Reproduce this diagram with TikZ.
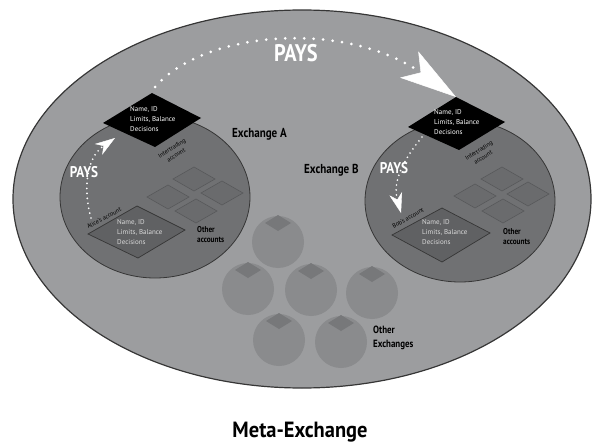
\documentclass[tikz,border=0pt]{standalone}
\usepackage{fontspec}
\setmainfont{PT Sans}
\newfontfamily\condfont[FakeStretch=0.85]{PT Sans}
\newfontfamily\metafont[FakeStretch=0.93]{PT Sans}
\usetikzlibrary{arrows.meta,shapes.geometric}
\definecolor{bgell}{HTML}{9C9D9F}
\definecolor{exfill}{HTML}{707173}
\definecolor{oxfill}{HTML}{8A8B8D}
\definecolor{oxtop}{HTML}{77787A}
\definecolor{accfill}{HTML}{606163}
\definecolor{smallacc}{HTML}{6A6B6D}
\definecolor{smalledge}{HTML}{58595B}
\definecolor{edgecol}{HTML}{363636}
\definecolor{lighttext}{HTML}{DADADA}
\begin{document}
\begin{tikzpicture}[x=1pt,y=-1pt,
  exch/.style={ellipse, draw=edgecol, line width=0.8pt, fill=exfill, minimum width=190pt, minimum height=162pt, inner sep=0pt},
  oxc/.style={circle, fill=oxfill, minimum size=52pt, inner sep=0pt},
  oxd/.style={fill=oxtop},
  accbox/.style={fill=smallacc, draw=smalledge, line width=0.6pt},
  persacc/.style={fill=accfill, draw=edgecol, line width=0.7pt},
  dtext/.style={text=white, align=left, inner sep=0pt, font=\fontsize{7}{10}\selectfont},
  ltext/.style={text=lighttext, align=left, inner sep=0pt, font=\fontsize{7}{10}\selectfont},
  rotlbl/.style={text=black, align=center, inner sep=0pt, font=\fontsize{6.1}{8}\selectfont},
  boldlbl/.style={text=black, inner sep=0pt, font=\condfont\bfseries\fontsize{13}{13}\selectfont},
  smalllbl/.style={text=black, align=left, inner sep=0pt, font=\condfont\bfseries\fontsize{8.5}{10}\selectfont},
  paystext/.style={text=white, inner sep=0pt, font=\condfont\bfseries\fontsize{15.5}{15.5}\selectfont},
  bigpays/.style={white, line width=3pt, line cap=round, dash pattern=on 0pt off 9.5pt,
    -{Stealth[length=57pt, width=32pt, inset=14pt, line width=0.5pt]}},
  smallpays/.style={white, line width=1.9pt, line cap=round, dash pattern=on 0pt off 5pt,
    -{Stealth[length=20pt, width=13pt, inset=6pt, line width=0.4pt]}}
]
\useasboundingbox (0,0) rectangle (592,444);

% Meta-exchange ellipse
\node[ellipse, draw=edgecol, line width=1.2pt, fill=bgell, minimum width=578pt, minimum height=378pt, inner sep=0pt] (meta) at (302,199) {};

% Other exchanges
\foreach \n/\cx/\cy in {1/278/242, 2/248/289, 3/311/290, 4/372/293, 5/279/340, 6/341/342}{
  \node[oxc] (ox\n) at (\cx,\cy) {};
  \fill[oxd] (\cx,\cy-27) -- (\cx+13,\cy-19) -- (\cx,\cy-11) -- (\cx-13,\cy-19) -- cycle;
}

% Exchange circles
\node[exch] (exA) at (155,197) {};
\node[exch] (exB) at (460,201) {};

% Other accounts (small diamonds)
\foreach \cx/\cy in {194/179, 168/197, 222/193, 196/211, 502/179, 475/196, 528/194, 503/211}{
  \draw[accbox] (\cx,\cy-12) -- (\cx+21,\cy) -- (\cx,\cy+12) -- (\cx-21,\cy) -- cycle;
}

% Alice's and Bob's accounts
\coordinate (cT) at (137,206); \coordinate (cR) at (185,230);
\coordinate (cB) at (138,258); \coordinate (cL) at (88,234);
\draw[persacc] (cT) -- (cR) -- (cB) -- (cL) -- cycle;
\coordinate (dT) at (442,208); \coordinate (dR) at (490,233);
\coordinate (dB) at (442,262); \coordinate (dL) at (392,235);
\draw[persacc] (dT) -- (dR) -- (dB) -- (dL) -- cycle;

% Intertrading accounts (black diamonds)
\coordinate (aT) at (152,93); \coordinate (aR) at (201,118);
\coordinate (aB) at (155,147); \coordinate (aL) at (103,123);
\fill[black] (aT) -- (aR) -- (aB) -- (aL) -- cycle;
\coordinate (bT) at (456,97); \coordinate (bR) at (505,122);
\coordinate (bB) at (459,150); \coordinate (bL) at (408,127);
\fill[black] (bT) -- (bR) -- (bB) -- (bL) -- cycle;

% Texts inside diamonds
\node[dtext, anchor=north west] (aTxt) at (130,106.5) {Name, ID\\Limits, Balance\\Decisions};
\node[dtext, anchor=north west] (bTxt) at (434,109.5) {Name, ID\\Limits, Balance\\Decisions};
\node[ltext, anchor=north west] (cTxt) at (117,219.5) {Name, ID\\Limits, Balance\\Decisions};
\node[ltext, anchor=north west] (dTxt) at (422,219.5) {Name, ID\\Limits, Balance\\Decisions};

% Rotated labels
\node[rotlbl, rotate=32] (aInt) at (174,151.5) {Intertrading\\account};
\node[rotlbl, rotate=32] (bInt) at (481,154) {Intertrading\\account};
\node[rotlbl, rotate=28] (aliceLbl) at (104,218) {Alice's account};
\node[rotlbl, rotate=30] (bobLbl) at (408,218) {Bob's account};

% Bold labels
\node[boldlbl, anchor=base west] (labA) at (232,137.5) {Exchange A};
\node[boldlbl, anchor=base west] (labB) at (304,173.5) {Exchange B};
\node[smalllbl, anchor=north west] (othA) at (197,226.5) {Other\\accounts};
\node[smalllbl, anchor=north west] (othB) at (503,228) {Other\\accounts};
\node[smalllbl, anchor=north west, font=\condfont\bfseries\fontsize{10.5}{14.5}\selectfont] (othEx) at (373,325.5) {Other\\Exchanges};
\node[text=black, inner sep=0pt, font=\metafont\bfseries\fontsize{22}{22}\selectfont, anchor=base] (metaLbl) at (300,437) {Meta-Exchange};

% PAYS arrows
\coordinate (bigS) at (155,87);
\draw[bigpays] (bigS) .. controls (205,30) and (345,20) .. (bT);
\node[paystext, font=\condfont\bfseries\fontsize{24}{24}\selectfont] (paysBig) at (296,53.5) {PAYS};

\coordinate (aS) at (91,218);
\coordinate (aE) at (115,138);
\draw[smallpays] (aS) .. controls (83,190) and (86,158) .. (aE);
\node[paystext] (paysA) at (84,172.5) {PAYS};

\coordinate (bS) at (422,137);
\coordinate (bE) at (401,213);
\draw[smallpays] (bS) .. controls (405,158) and (392,180) .. (bE);
\node[paystext] (paysB) at (394,168.5) {PAYS};
\end{tikzpicture}
\end{document}
